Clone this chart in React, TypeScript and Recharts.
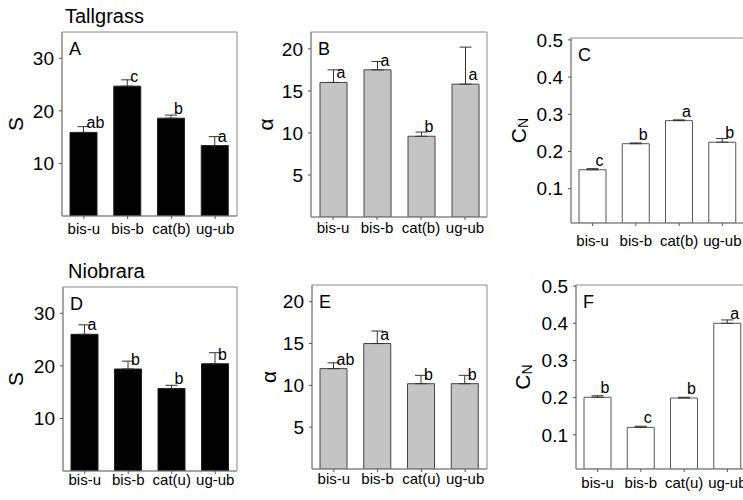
import { BarChart, Bar, XAxis, YAxis, ErrorBar, LabelList, ReferenceArea } from 'recharts'

const topGroups = ['bis-u', 'bis-b', 'cat(b)', 'ug-ub']
const bottomGroups = ['bis-u', 'bis-b', 'cat(u)', 'ug-ub']

// Tallgrass
const tallS = [15.9, 24.7, 18.6, 13.4]
const tallSErr = [1.1, 1.2, 0.6, 1.7]
const tallSLetters = ['ab', 'c', 'b', 'a']

const tallAlpha = [16.0, 17.5, 9.6, 15.8]
const tallAlphaErr = [1.5, 1.0, 0.5, 4.4]
const tallAlphaLetters = ['a', 'a', 'b', 'a']

const tallCn = [0.151, 0.221, 0.283, 0.225]
const tallCnErr = [0.003, 0.002, 0.002, 0.01]
const tallCnLetters = ['c', 'b', 'a', 'b']

// Niobrara
const nioS = [26.0, 19.4, 15.7, 20.4]
const nioSErr = [1.8, 1.5, 0.6, 2.1]
const nioSLetters = ['a', 'b', 'b', 'b']

const nioAlpha = [12.0, 15.0, 10.2, 10.2]
const nioAlphaErr = [0.7, 1.5, 1.0, 1.0]
const nioAlphaLetters = ['ab', 'a', 'b', 'b']

const nioCn = [0.201, 0.12, 0.199, 0.4]
const nioCnErr = [0.004, 0.003, 0.002, 0.009]
const nioCnLetters = ['b', 'c', 'b', 'a']

const sTicks = [10, 20, 30]
const alphaTicks = [5, 10, 15, 20]
const cnTicks = [0.1, 0.2, 0.3, 0.4, 0.5]

const FONT = '"Liberation Sans", Arial, Helvetica, sans-serif'
const BOX = '#888'

type Kind = 'S' | 'alpha' | 'cn'

type PanelProps = {
  left: number
  top: number
  width: number
  height: number
  mTop: number
  mRight: number
  yWidth: number
  xHeight: number
  xGap: number
  titleGap: number
  groups: string[]
  values: number[]
  errors: number[]
  letters: string[]
  domain: [number, number]
  ticks: number[]
  fill: string
  stroke: string
  tag: string
  kind: Kind
}

function YTitle({ viewBox, kind, gap }: any) {
  const cx = viewBox.x + viewBox.width - gap
  const cy = viewBox.y + viewBox.height / 2
  return (
    <text
      x={cx}
      y={cy}
      transform={`rotate(-90 ${cx} ${cy})`}
      textAnchor="middle"
      dominantBaseline="central"
      fontFamily={FONT}
      fontSize={21}
      fill="#000"
    >
      {kind === 'S' && 'S'}
      {kind === 'alpha' && 'α'}
      {kind === 'cn' && (
        <>
          <tspan>C</tspan>
          <tspan fontSize={14} dy={5}>N</tspan>
        </>
      )}
    </text>
  )
}

function Panel(p: PanelProps) {
  const data = p.groups.map((g, i) => ({
    group: g,
    value: p.values[i],
    err: [0, p.errors[i]],
    letter: p.letters[i],
  }))

  return (
    <div style={{ position: 'absolute', left: p.left, top: p.top }}>
      <BarChart
        width={p.width}
        height={p.height}
        data={data}
        margin={{ top: p.mTop, right: p.mRight, bottom: 0, left: 0 }}
        barSize={27}
      >
        <XAxis
          dataKey="group"
          height={p.xHeight}
          tickSize={3}
          tickMargin={p.xGap}
          tick={{ fontSize: 15, fill: '#000', fontFamily: FONT }}
          tickLine={{ stroke: '#555' }}
          axisLine={{ stroke: BOX }}
          interval={0}
        />
        <YAxis
          width={p.yWidth}
          domain={p.domain}
          allowDataOverflow
          ticks={p.ticks}
          tickSize={3}
          tickMargin={5}
          tick={{ fontSize: 19, fill: '#000', fontFamily: FONT }}
          tickLine={{ stroke: '#555' }}
          axisLine={{ stroke: BOX }}
          label={{
            content: (lp: any) => <YTitle {...lp} kind={p.kind} gap={p.titleGap} />,
          }}
        />
        <ReferenceArea
          x1={p.groups[0]}
          x2={p.groups[p.groups.length - 1]}
          y1={p.domain[0]}
          y2={p.domain[1]}
          ifOverflow="visible"
          fill="#fff"
          fillOpacity={0}
          stroke={BOX}
          strokeWidth={1}
        />
        <Bar
          dataKey="value"
          fill={p.fill}
          stroke={p.stroke}
          strokeWidth={1}
          isAnimationActive={false}
        >
          <ErrorBar
            dataKey="err"
            direction="y"
            width={6}
            stroke="#333"
            strokeWidth={1}
            isAnimationActive={false}
          />
          <LabelList
            dataKey="letter"
            content={(lp: any) => (
              <text
                x={lp.x + lp.width / 2 + 3}
                y={lp.y - 4}
                fontFamily={FONT}
                fontSize={16}
                fill="#000"
              >
                {lp.value}
              </text>
            )}
          />
        </Bar>
      </BarChart>
      <div
        style={{
          position: 'absolute',
          left: p.yWidth + 7,
          top: p.mTop + 8,
          fontFamily: FONT,
          fontSize: 18,
          lineHeight: '18px',
          color: '#000',
        }}
      >
        {p.tag}
      </div>
    </div>
  )
}

export default function App() {
  return (
    <div
      style={{
        position: 'absolute',
        left: 0,
        top: 0,
        width: 743,
        height: 500,
        overflow: 'hidden',
        background: '#fff',
      }}
    >
      <svg
        width={743}
        height={500}
        style={{ position: 'absolute', left: 0, top: 0 }}
      >
        <text x={65} y={23} fontFamily={FONT} fontSize={20} fill="#000">
          Tallgrass
        </text>
        <text x={68} y={278} fontFamily={FONT} fontSize={20} fill="#000">
          Niobrara
        </text>
      </svg>

      <Panel
        left={0} top={0} width={245} height={250}
        mTop={32} mRight={8} yWidth={62} xHeight={34} xGap={4} titleGap={47}
        groups={topGroups} values={tallS} errors={tallSErr} letters={tallSLetters}
        domain={[0, 35]} ticks={sTicks} fill="#000" stroke="#222" tag="A" kind="S"
      />
      <Panel
        left={250} top={0} width={245} height={250}
        mTop={32} mRight={8} yWidth={61} xHeight={33} xGap={2} titleGap={46}
        groups={topGroups} values={tallAlpha} errors={tallAlphaErr} letters={tallAlphaLetters}
        domain={[0, 22]} ticks={alphaTicks} fill="#c4c4c4" stroke="#444" tag="B" kind="alpha"
      />
      <Panel
        left={500} top={0} width={244} height={250}
        mTop={38} mRight={0} yWidth={71} xHeight={27} xGap={9} titleGap={53}
        groups={topGroups} values={tallCn} errors={tallCnErr} letters={tallCnLetters}
        domain={[0.008, 0.505]} ticks={cnTicks} fill="#fff" stroke="#555" tag="C" kind="cn"
      />
      <Panel
        left={0} top={250} width={245} height={250}
        mTop={37} mRight={8} yWidth={63} xHeight={29} xGap={0} titleGap={48}
        groups={bottomGroups} values={nioS} errors={nioSErr} letters={nioSLetters}
        domain={[0, 35]} ticks={sTicks} fill="#000" stroke="#222" tag="D" kind="S"
      />
      <Panel
        left={250} top={250} width={245} height={250}
        mTop={35} mRight={8} yWidth={62} xHeight={31} xGap={1} titleGap={44}
        groups={bottomGroups} values={nioAlpha} errors={nioAlphaErr} letters={nioAlphaLetters}
        domain={[0, 22]} ticks={alphaTicks} fill="#c4c4c4" stroke="#444" tag="E" kind="alpha"
      />
      <Panel
        left={500} top={250} width={249} height={250}
        mTop={35} mRight={0} yWidth={76} xHeight={31} xGap={5} titleGap={54}
        groups={bottomGroups} values={nioCn} errors={nioCnErr} letters={nioCnLetters}
        domain={[0.008, 0.503]} ticks={cnTicks} fill="#fff" stroke="#555" tag="F" kind="cn"
      />
    </div>
  )
}
